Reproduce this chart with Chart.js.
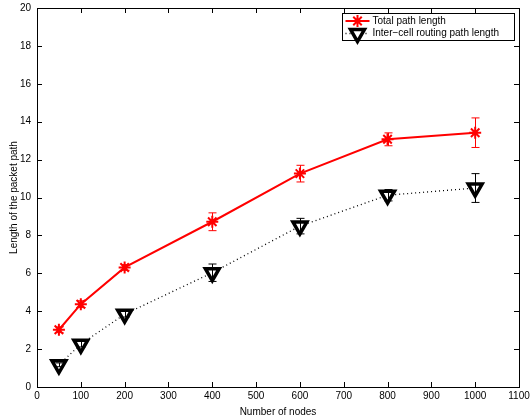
<!DOCTYPE html>
<html>
<head>
<meta charset="utf-8">
<script src="https://cdn.jsdelivr.net/npm/chart.js@4/dist/chart.umd.min.js"></script>
<style>
html,body{margin:0;padding:0;background:#fff;}
#wrap{width:530px;height:418px;position:relative;}
</style>
</head>
<body>
<div id="wrap"><canvas id="c" width="530" height="418"></canvas></div>
<script>
const nodes = [50, 100, 200, 400, 600, 800, 1000];
const totalLen = [3.02, 4.37, 6.31, 8.72, 11.26, 13.07, 13.42];
const totalErr = [0.15, 0.18, 0.15, 0.47, 0.44, 0.34, 0.78];
const interLen = [1.17, 2.26, 3.84, 6.03, 8.49, 10.12, 10.5];
const interErr = [0.1, 0.15, 0.15, 0.46, 0.41, 0.3, 0.76];
const xTickValues = [0, 100, 200, 300, 400, 500, 600, 700, 800, 900, 1000, 1100];
const yTickValues = [0, 2, 4, 6, 8, 10, 12, 14, 16, 18, 20];
const seriesNames = ['Total path length', 'Inter\u2212cell routing path length'];
const xTitle = 'Number of nodes';
const yTitle = 'Length of the packet path';

const FONT = 'Liberation Sans, Arial, Helvetica, sans-serif';

const errorBarPlugin = {
  id: 'errbars',
  afterDatasetsDraw(chart) {
    const ctx = chart.ctx, xs = chart.scales.x, ys = chart.scales.y;
    chart.data.datasets.forEach(ds => {
      ctx.save();
      ctx.strokeStyle = ds.borderColor;
      ctx.lineWidth = 1;
      ds.data.forEach((p, i) => {
        const e = ds.errors[i];
        const px = Math.round(xs.getPixelForValue(p.x)) + 0.5;
        const yt = ys.getPixelForValue(p.y + e);
        const yb = ys.getPixelForValue(p.y - e);
        ctx.beginPath();
        ctx.moveTo(px, yt); ctx.lineTo(px, yb);
        ctx.moveTo(px - 4, yt); ctx.lineTo(px + 4, yt);
        ctx.moveTo(px - 4, yb); ctx.lineTo(px + 4, yb);
        ctx.stroke();
      });
      ctx.restore();
    });
  }
};

function drawBoxAndLegend(chart) {
  const ctx = chart.ctx, a = chart.chartArea, xs = chart.scales.x, ys = chart.scales.y;
  ctx.save();
  ctx.strokeStyle = '#000';
  ctx.lineWidth = 1;
  ctx.beginPath();
  ctx.rect(Math.round(a.left) + 0.5, Math.round(a.top) + 0.5, Math.round(a.right - a.left), Math.round(a.bottom - a.top));
  ctx.stroke();
  const L = 5;
  ctx.beginPath();
  xs.ticks.forEach(t => {
    const px = Math.round(xs.getPixelForValue(t.value)) + 0.5;
    ctx.moveTo(px, a.bottom); ctx.lineTo(px, a.bottom - L);
    ctx.moveTo(px, a.top); ctx.lineTo(px, a.top + L);
  });
  ys.ticks.forEach(t => {
    const py = Math.round(ys.getPixelForValue(t.value)) + 0.5;
    ctx.moveTo(a.left, py); ctx.lineTo(a.left + L, py);
    ctx.moveTo(a.right, py); ctx.lineTo(a.right - L, py);
  });
  ctx.stroke();

  // legend
  const w = 172, h = 27;
  const lx = Math.round(a.right - 5 - w) + 0.5, ly = Math.round(a.top + 5) + 0.5;
  ctx.fillStyle = '#fff';
  ctx.fillRect(lx, ly, w, h);
  ctx.strokeRect(lx, ly, w, h);
  ctx.font = '10px ' + FONT;
  ctx.textBaseline = 'middle';
  ctx.textAlign = 'left';
  chart.data.datasets.forEach((ds, i) => {
    const cy = ly + 7.5 + i * 12.5;
    ctx.save();
    ctx.strokeStyle = ds.borderColor;
    ctx.lineWidth = ds.borderWidth;
    ctx.setLineDash(ds.borderDash || []);
    ctx.beginPath();
    ctx.moveTo(lx + 3, cy); ctx.lineTo(lx + 27, cy);
    ctx.stroke();
    ctx.restore();
    ctx.save();
    ctx.strokeStyle = ds.pointBorderColor;
    ctx.fillStyle = ds.pointBackgroundColor;
    ctx.lineWidth = ds.pointBorderWidth;
    ctx.setLineDash([]);
    Chart.helpers.drawPoint(ctx, {
      pointStyle: ds.pointStyle, rotation: ds.pointRotation || 0,
      radius: ds.pointRadius, borderWidth: ds.pointBorderWidth
    }, lx + 15, cy);
    ctx.restore();
    ctx.fillStyle = '#000';
    ctx.fillText(ds.label, lx + 30, cy);
  });
  ctx.restore();
}

const ds1 = {
  label: seriesNames[0],
  data: nodes.map((n, i) => ({x: n, y: totalLen[i]})),
  errors: totalErr,
  borderColor: '#ff0000',
  backgroundColor: '#ff0000',
  borderWidth: 2,
  pointStyle: 'star',
  pointRadius: 6,
  pointBorderWidth: 2,
  pointBorderColor: '#ff0000',
  pointBackgroundColor: '#ff0000',
  tension: 0
};
const ds2 = {
  label: seriesNames[1],
  data: nodes.map((n, i) => ({x: n, y: interLen[i]})),
  errors: interErr,
  borderColor: '#000000',
  backgroundColor: '#ffffff',
  borderWidth: 1.3,
  borderDash: [1, 3],
  pointStyle: 'triangle',
  pointRotation: 180,
  pointRadius: 8,
  pointBorderWidth: 3.5,
  pointBorderColor: '#000000',
  pointBackgroundColor: '#ffffff',
  tension: 0
};

new Chart(document.getElementById('c'), {
  type: 'line',
  data: { datasets: [ds1, ds2] },
  plugins: [errorBarPlugin, { id: 'boxlegend', afterDraw: drawBoxAndLegend }],
  options: {
    responsive: false,
    animation: false,
    events: [],
    layout: { autoPadding: false, padding: { left: 0, top: 8, right: 11, bottom: 0 } },
    plugins: { legend: { display: false }, tooltip: { enabled: false } },
    scales: {
      x: {
        type: 'linear',
        min: 0, max: 1100,
        afterBuildTicks(s) { s.ticks = xTickValues.map(v => ({value: v})); },
        afterFit(s) { s.height = 31; s.paddingLeft = 0; s.paddingRight = 0; },
        grid: { display: false, drawTicks: false },
        border: { display: true, color: '#000', width: 1 },
        ticks: { color: '#000', font: { family: FONT, size: 10 }, padding: 3, maxRotation: 0, autoSkip: false,
                 callback: v => String(v) },
        title: { display: true, text: xTitle, color: '#000', font: { family: FONT, size: 10 }, padding: { top: 0, bottom: 0 } }
      },
      y: {
        type: 'linear',
        min: 0, max: 20,
        afterBuildTicks(s) { s.ticks = yTickValues.map(v => ({value: v})); },
        afterFit(s) { s.width = 37; s.paddingTop = 0; s.paddingBottom = 0; },
        grid: { display: false, drawTicks: false },
        border: { display: true, color: '#000', width: 1 },
        ticks: { color: '#000', font: { family: FONT, size: 10 }, padding: 6, autoSkip: false,
                 callback: v => String(v) },
        title: { display: true, text: yTitle, color: '#000', font: { family: FONT, size: 10 }, padding: { top: 8, bottom: 0 } }
      }
    }
  }
});
</script>
</body>
</html>
